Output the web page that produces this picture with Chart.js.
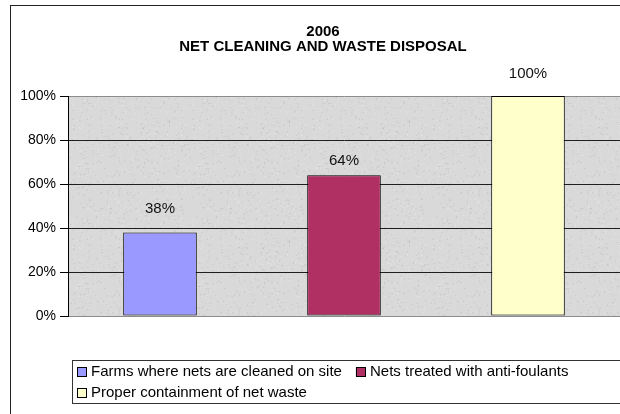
<!DOCTYPE html>
<html>
<head>
<meta charset="utf-8">
<title>Net cleaning and waste disposal 2006</title>
<script src="https://cdn.jsdelivr.net/npm/chart.js@4.4.1/dist/chart.umd.min.js"></script>
<style>
  html, body { margin: 0; padding: 0; background: #fff; overflow: hidden; width: 620px; height: 414px; }
  #wrap { width: 640px; height: 420px; }
</style>
</head>
<body>
<div id="wrap"><canvas id="netChart" width="640" height="420"></canvas></div>
<script>
// survey results, share of farms (%)
const categories = [
  "Farms where nets are cleaned on site",
  "Nets treated with anti-foulants",
  "Proper containment of net waste"
];
const shares = [38, 64, 100];
const yTicks = [0, 20, 40, 60, 80, 100];
const titleLines = ["2006", "NET CLEANING AND WASTE DISPOSAL"];
const barColors = ["#9999ff", "#b03064", "#ffffcc"];

Chart.defaults.font.family = "'Liberation Sans', Arial, sans-serif";
Chart.defaults.color = "#000";

// grey speckled fill for the plot area
function makeGranite() {
  const c = document.createElement("canvas");
  c.width = 120; c.height = 120;
  const g = c.getContext("2d");
  g.fillStyle = "#d9d9d9";
  g.fillRect(0, 0, 120, 120);
  let s = 7;
  const next = () => (s = (s * 1103515245 + 12345) & 0x7fffffff) / 0x7fffffff;
  for (let i = 0; i < 900; i++) {
    const x = next() * 120, y = next() * 120, light = next() > 0.5;
    g.fillStyle = light ? "rgba(255,255,255,0.35)" : "rgba(90,90,90,0.18)";
    g.fillRect(x, y, 1, 1);
  }
  return c;
}

const framePlugin = {
  id: "frame",
  // title is centred on the whole frame, not only the area right of the axis
  afterLayout(chart, args, opts) {
    chart.titleBlock.left = opts.titleLeft;
  },
  beforeDraw(chart) {
    const { ctx, chartArea: a } = chart;
    ctx.save();
    ctx.fillStyle = "#fff";
    ctx.fillRect(0, 0, chart.width, chart.height);
    ctx.strokeStyle = "#222";
    ctx.lineWidth = 1;
    ctx.strokeRect(10.5, 5.5, 800, 600);
    ctx.fillStyle = ctx.createPattern(makeGranite(), "repeat");
    ctx.fillRect(a.left, a.top, a.right - a.left, a.bottom - a.top);
    ctx.restore();
  }
};

const valueLabels = {
  id: "valueLabels",
  afterDatasetsDraw(chart, args, opts) {
    const { ctx } = chart;
    const meta = chart.getDatasetMeta(0);
    ctx.save();
    ctx.font = "15px 'Liberation Sans', Arial, sans-serif";
    ctx.fillStyle = "#111";
    ctx.textAlign = "center";
    ctx.textBaseline = "middle";
    meta.data.forEach((bar, i) => {
      ctx.fillText(shares[i] + "%", bar.x, bar.y - opts.lift[i]);
    });
    ctx.restore();
  }
};

// legend in a bordered box under the plot
const boxLegend = {
  id: "boxLegend",
  afterDraw(chart, args, o) {
    const { ctx } = chart;
    ctx.save();
    ctx.strokeStyle = "#333";
    ctx.lineWidth = 1;
    ctx.strokeRect(o.left + 0.5, o.top + 0.5, 800, o.height);
    ctx.font = "15px 'Liberation Sans', Arial, sans-serif";
    ctx.textBaseline = "middle";
    let x = o.left + 5, row = 0;
    categories.forEach((name, i) => {
      const w = o.box + o.gap + ctx.measureText(name).width;
      if (x + w > o.maxRight && x > o.left + 5) { row++; x = o.left + 5; }
      const y = o.rows[row];
      ctx.fillStyle = barColors[i];
      ctx.fillRect(x, y - o.box / 2, o.box, o.box);
      ctx.strokeStyle = "#000";
      ctx.strokeRect(x + 0.5, y - o.box / 2 + 0.5, o.box - 1, o.box - 1);
      ctx.fillStyle = "#000";
      ctx.fillText(name, x + o.box + o.gap, y);
      x += w + o.itemGap;
    });
    ctx.restore();
  }
};

new Chart(document.getElementById("netChart"), {
  type: "bar",
  data: {
    labels: categories,
    datasets: [{
      data: shares,
      backgroundColor: barColors,
      borderColor: "#000",
      borderWidth: 1,
      borderSkipped: false,
      categoryPercentage: 1,
      barPercentage: 0.4
    }]
  },
  options: {
    responsive: false,
    animation: false,
    devicePixelRatio: 1,
    layout: { padding: { top: 10, left: 12, right: 20, bottom: 104 } },
    plugins: {
      legend: { display: false },
      tooltip: { enabled: false },
      title: {
        display: true,
        text: titleLines,
        color: "#000",
        font: { size: 15, weight: "bold", lineHeight: 0.95 },
        padding: { top: 15, bottom: 42.5 }
      },
      frame: { titleLeft: 26 },
      valueLabels: { lift: [24, 14, 22] },
      boxLegend: { left: 72, top: 360, height: 43, rows: [372, 393], box: 10, gap: 4, itemGap: 14, maxRight: 600 }
    },
    scales: {
      x: {
        ticks: { display: false },
        grid: { display: false },
        border: { display: false },
        afterFit(s) { s.height = 0; }
      },
      y: {
        min: 0,
        max: 100,
        afterBuildTicks(s) { s.ticks = yTicks.map(v => ({ value: v })); },
        afterFit(s) { s.width = 56; },
        border: { display: true, color: "#000", width: 1 },
        grid: {
          color: c => (c.tick && (c.tick.value === 0 || c.tick.value === 100)) ? "#8c8c8c" : "#1f1f1f",
          tickColor: "#000",
          tickLength: 8,
          lineWidth: 1
        },
        ticks: {
          color: "#000",
          font: { size: 14 },
          padding: 4,
          callback: v => v + "%"
        }
      }
    }
  },
  plugins: [framePlugin, valueLabels, boxLegend]
});
</script>
</body>
</html>
